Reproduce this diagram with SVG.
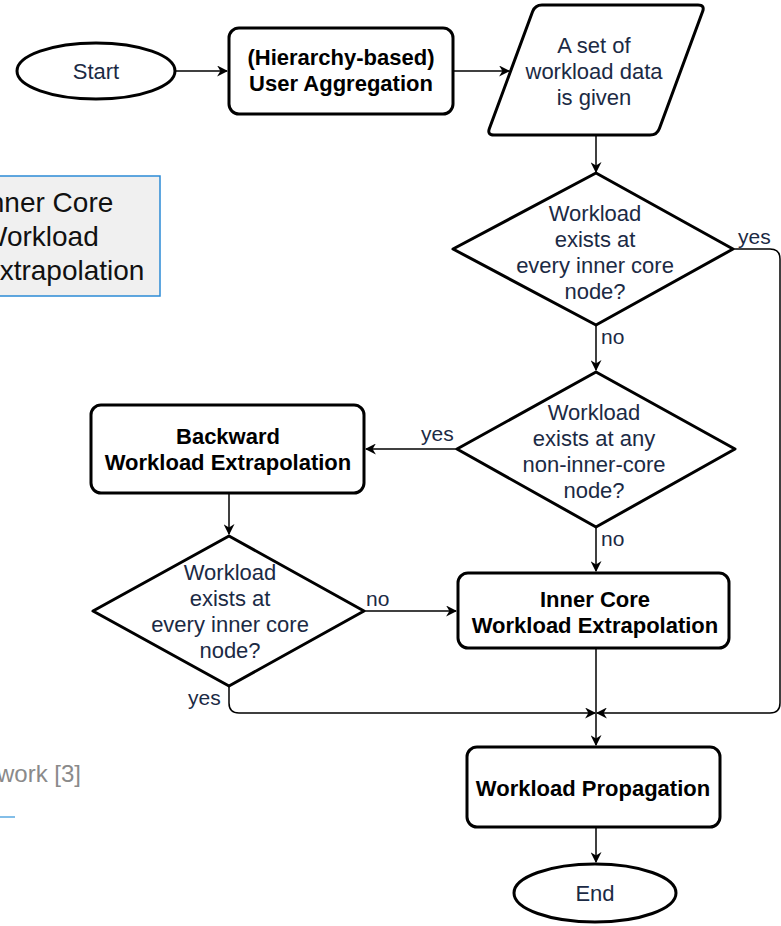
<svg xmlns="http://www.w3.org/2000/svg" width="781" height="926" viewBox="0 0 781 926">
<style>
.node{fill:#fff;stroke:#000;stroke-width:3;stroke-linejoin:round}
.t{font-family:"Liberation Sans",Arial,sans-serif;font-size:22px;fill:#1b2a44;text-anchor:middle}
.b{font-family:"Liberation Sans",Arial,sans-serif;font-size:22px;font-weight:bold;fill:#000;text-anchor:middle}
.lbl{font-family:"Liberation Sans",Arial,sans-serif;font-size:21px;fill:#1b2a44}
.side{font-family:"Liberation Sans",Arial,sans-serif;font-size:28px;fill:#111}
.c{fill:none;stroke:#000;stroke-width:1.5}
</style>
<defs>
<marker id="ar" viewBox="0 0 10 10" refX="9" refY="5" markerWidth="11" markerHeight="11" markerUnits="userSpaceOnUse" orient="auto">
<path d="M0,0 L10,5 L0,10 L3,5 z" fill="#000"/>
</marker>
</defs>
<rect width="781" height="926" fill="#fff"/>

<g id="side-box">
<rect x="-10" y="176" width="170" height="120" fill="#f0f0f0" stroke="#2b8bd6" stroke-width="1.5"/>
<text class="side" x="-19" y="212">Inner Core</text>
<text class="side" x="-19" y="246">Workload</text>
<text class="side" x="-19" y="280">Extrapolation</text>
</g>
<g id="side-caption">
<text x="-3" y="782" font-family="Liberation Sans,Arial,sans-serif" font-size="24" fill="#8a8a8a">work [3]</text>
<line x1="0" y1="817" x2="15" y2="817" stroke="#5aa8e0" stroke-width="1.5"/>
</g>

<g id="connectors">
<path class="c" d="M175,71 L227,71" marker-end="url(#ar)"/>
<path class="c" d="M453,71 L509,71" marker-end="url(#ar)"/>
<path class="c" d="M596,135 L596,172" marker-end="url(#ar)"/>
<path class="c" d="M596,325 L596,370" marker-end="url(#ar)"/>
<path class="c" d="M457,449 L366,449" marker-end="url(#ar)"/>
<path class="c" d="M596,527 L596,571" marker-end="url(#ar)"/>
<path class="c" d="M229,493 L229,534" marker-end="url(#ar)"/>
<path class="c" d="M364,611 L456,611" marker-end="url(#ar)"/>
<path class="c" d="M733,249 L770,249 Q780,249 780,259 L780,703 Q780,713 770,713 L597,713" marker-end="url(#ar)"/>
<path class="c" d="M229,686 L229,703 Q229,713 239,713 L595,713" marker-end="url(#ar)"/>
<path class="c" d="M596,648 L596,745" marker-end="url(#ar)"/>
<path class="c" d="M596,827 L596,862" marker-end="url(#ar)"/>
<text class="lbl" x="738" y="244">yes</text>
<text class="lbl" x="601" y="344">no</text>
<text class="lbl" x="421" y="441">yes</text>
<text class="lbl" x="601" y="546">no</text>
<text class="lbl" x="366" y="606">no</text>
<text class="lbl" x="188" y="705">yes</text>
</g>

<g id="start">
<ellipse class="node" cx="96" cy="71" rx="79" ry="28"/>
<text class="t" x="96" y="79">Start</text>
</g>
<g id="user-aggregation">
<rect class="node" x="229" y="28" width="224" height="86" rx="10"/>
<text class="b" x="341" y="65">(Hierarchy-based)</text>
<text class="b" x="341" y="91">User Aggregation</text>
</g>
<g id="workload-data">
<path class="node" d="M542,5 L698,5 Q705,5 702.6,11.6 L659.4,128.4 Q657,135 650,135 L494,135 Q487,135 489.4,128.4 L532.6,11.6 Q535,5 542,5 Z"/>
<text class="t" x="594" y="53">A set of</text>
<text class="t" x="594" y="79">workload data</text>
<text class="t" x="594" y="105">is given</text>
</g>
<g id="decision-every-1">
<path class="node" d="M596,173 L733,249 L596,325 L453,249 Z"/>
<text class="t" x="595" y="221">Workload</text>
<text class="t" x="595" y="247">exists at</text>
<text class="t" x="595" y="273">every inner core</text>
<text class="t" x="595" y="299">node?</text>
</g>
<g id="decision-any">
<path class="node" d="M596,372 L735,449 L596,527 L457,449 Z"/>
<text class="t" x="594" y="420">Workload</text>
<text class="t" x="594" y="446">exists at any</text>
<text class="t" x="594" y="472">non-inner-core</text>
<text class="t" x="594" y="498">node?</text>
</g>
<g id="backward">
<rect class="node" x="91" y="405" width="273" height="88" rx="10"/>
<text class="b" x="228" y="444">Backward</text>
<text class="b" x="228" y="470">Workload Extrapolation</text>
</g>
<g id="decision-every-2">
<path class="node" d="M229,536 L364,611 L229,686 L93,611 Z"/>
<text class="t" x="230" y="580">Workload</text>
<text class="t" x="230" y="606">exists at</text>
<text class="t" x="230" y="632">every inner core</text>
<text class="t" x="230" y="658">node?</text>
</g>
<g id="inner-core">
<rect class="node" x="458" y="573" width="271" height="75" rx="10"/>
<text class="b" x="595" y="607">Inner Core</text>
<text class="b" x="595" y="633">Workload Extrapolation</text>
</g>
<g id="propagation">
<rect class="node" x="467" y="747" width="253" height="80" rx="10"/>
<text class="b" x="593" y="796">Workload Propagation</text>
</g>
<g id="end">
<ellipse class="node" cx="595" cy="893" rx="81" ry="29"/>
<text class="t" x="595" y="901">End</text>
</g>
</svg>
